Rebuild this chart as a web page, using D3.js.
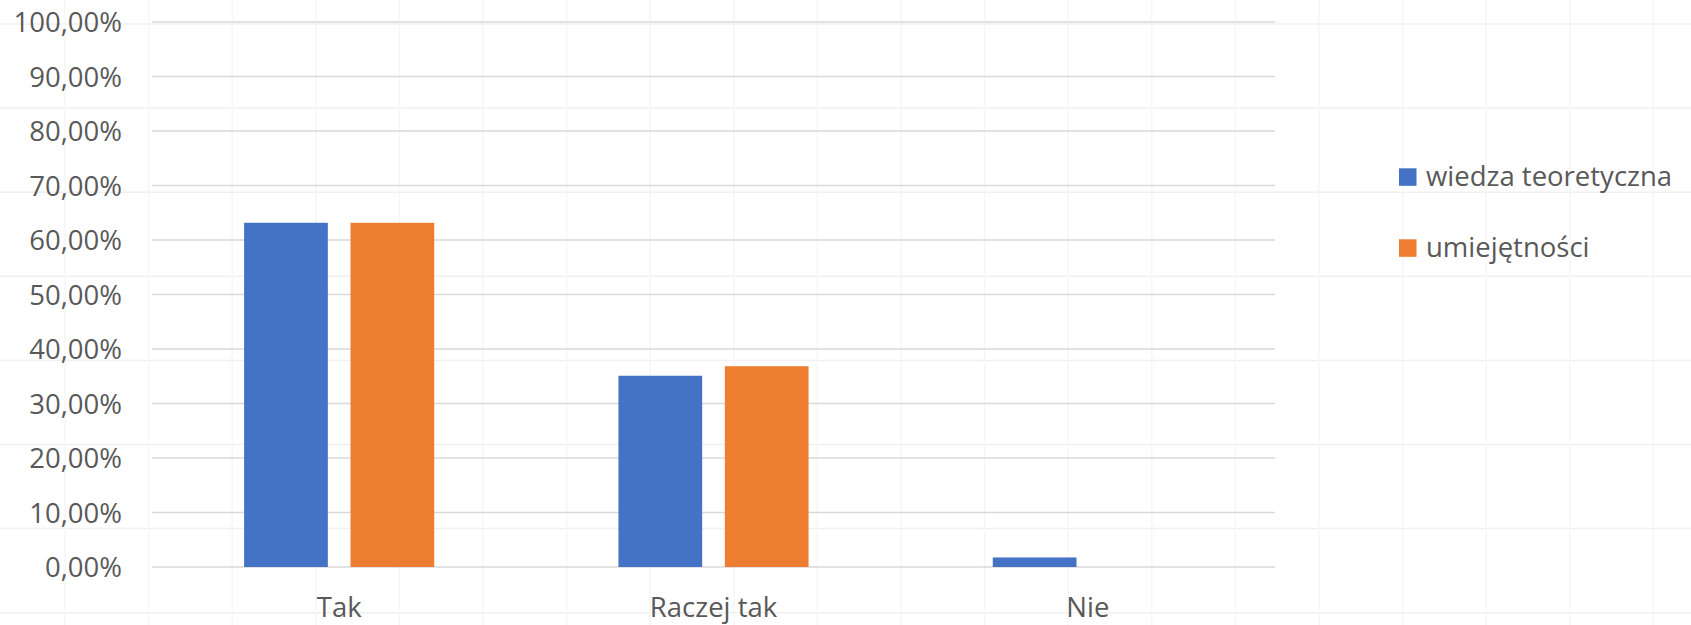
<!DOCTYPE html>
<html><head><meta charset="utf-8">
<script src="https://cdn.jsdelivr.net/npm/d3@7"></script>
<style>html,body{margin:0;padding:0;background:#fff;}svg{display:block;}</style>
</head><body>
<svg id="c" width="1691" height="625"></svg>
<script>
const categories = ["Tak", "Raczej tak", "Nie"];
const seriesNames = ["wiedza teoretyczna", "umiejętności"];
const wiedza = [0.6316, 0.3509, 0.0175];
const umiejetnosci = [0.6316, 0.3684, 0];
const yTicks = [0, 0.1, 0.2, 0.3, 0.4, 0.5, 0.6, 0.7, 0.8, 0.9, 1.0];
const colors = ["#4472C4", "#ED7D31"];

const svg = d3.select("#c");
const W = 1691, H = 625;
const FONT = "'Open Sans', 'Noto Sans', sans-serif";

// faint spreadsheet background grid
const bg = svg.append("g");
bg.selectAll("line.h").data(d3.range(24, H, 84.1)).join("line")
  .attr("x1", 0).attr("x2", W).attr("y1", d => d).attr("y2", d => d)
  .attr("stroke", "#f0f0f0").attr("stroke-width", 1.5);
bg.selectAll("line.v").data(d3.range(65, W, 83.6)).join("line")
  .attr("y1", 0).attr("y2", H).attr("x1", d => d).attr("x2", d => d)
  .attr("stroke", "#f6f6f6").attr("stroke-width", 1.5);

const plot = {left: 152, right: 1275, top: 22, bottom: 567};
const y = d3.scaleLinear().domain([0, 1]).range([plot.bottom, plot.top]);
const x0 = d3.scaleBand().domain(categories).range([plot.left, plot.right]).paddingInner(0).paddingOuter(0);
const groupW = x0.bandwidth() * 190.1 / 374.3;
const x1 = d3.scaleBand().domain(seriesNames).range([0, groupW]).paddingInner(0.213).paddingOuter(0);

// gridlines
svg.append("g").selectAll("line").data(yTicks).join("line")
  .attr("x1", plot.left).attr("x2", plot.right)
  .attr("y1", d => y(d)).attr("y2", d => y(d))
  .attr("stroke", "#d9d9d9").attr("stroke-width", 1.5);

// y axis labels
const fmt = v => (v * 100).toFixed(2).replace(".", ",") + "%";
const yAxis = d3.axisLeft(y).tickValues(yTicks).tickFormat(fmt).tickSize(0).tickPadding(0);
const ya = svg.append("g").attr("transform", "translate(122,0)").call(yAxis);
ya.select(".domain").remove();
ya.selectAll("text").attr("font-family", FONT).attr("font-size", 27.5).attr("fill", "#595959").attr("dy", "0.36em");

// bars
const data = categories.map((c, i) => ({cat: c, vals: [wiedza[i], umiejetnosci[i]]}));
const groups = svg.append("g").selectAll("g").data(data).join("g")
  .attr("transform", d => `translate(${x0(d.cat) + (x0.bandwidth() - groupW) / 2},0)`);
groups.selectAll("rect").data(d => d.vals.map((v, j) => ({s: seriesNames[j], v, j}))).join("rect")
  .attr("x", d => x1(d.s)).attr("width", x1.bandwidth())
  .attr("y", d => y(d.v)).attr("height", d => y(0) - y(d.v))
  .attr("fill", d => colors[d.j]);

// x axis labels
const xAxis = d3.axisBottom(x0).tickSize(0).tickPadding(0);
const xa = svg.append("g").attr("transform", "translate(0,617)").call(xAxis);
xa.select(".domain").remove();
xa.selectAll("text").attr("font-family", FONT).attr("font-size", 27.5).attr("fill", "#595959").attr("dy", 0).attr("y", 0);

// legend
const lg = svg.append("g").selectAll("g").data(seriesNames).join("g")
  .attr("transform", (d, i) => `translate(1399,${168.3 + i * 71})`);
lg.append("rect").attr("width", 17.5).attr("height", 17.5).attr("fill", (d, i) => colors[i]);
lg.append("text").attr("x", 27).attr("y", 17.5).text(d => d)
  .attr("font-family", FONT).attr("font-size", 27.5).attr("fill", "#595959");
</script>
</body></html>
